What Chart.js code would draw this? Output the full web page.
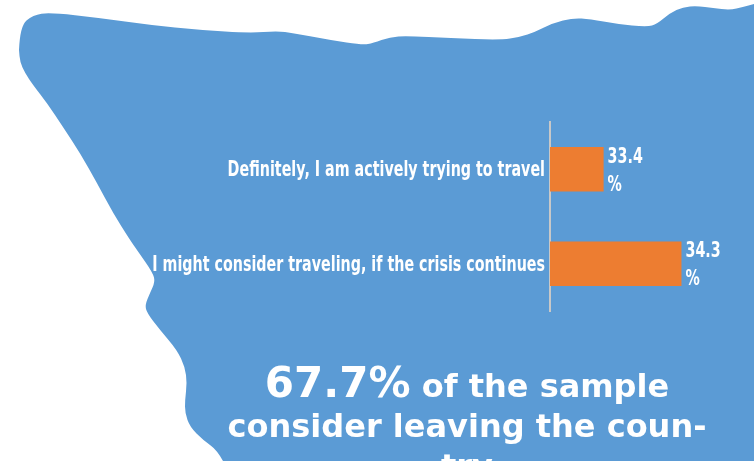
<!DOCTYPE html>
<html lang="en">
<head>
  <meta charset="UTF-8" />
  <title>Consider leaving the country</title>
  <script src="https://cdn.jsdelivr.net/npm/chart.js"></script>
  <style>
    body {
      margin: 0; padding: 0;
      background: #ffffff;
    }
    #wrap {
      width: 754px;
      height: 461px;
      position: relative;
    }
  </style>
</head>
<body>
  <div id="wrap">
    <canvas id="barChart" width="754" height="461"></canvas>
  </div>

  <script>
    // survey answers and their share of the sample (%)
    const categories = [
      "Definitely, I am actively trying to travel",
      "I might consider traveling, if the crisis continues"
    ];
    const shares = [33.4, 34.3];
    const valueUnit = "%";
    const axisMin = 32.78;
    const axisMax = 35;

    // headline under the bars: big number, then the rest of the sentence
    const headlineRest = ["of the sample", "consider leaving the coun-", "try"];

    const BLUE = "#5b9bd5";
    const ORANGE = "#ed7d31";
    const SQUEEZE = 0.68;   // labels are set narrow
    const LABEL_FONT = "bold 21px 'DejaVu Sans'";

    // outline of the blue backdrop
    const topEdge = [
      [19,50],[20,26],[33,15],[50,12.5],[100,18],[150,25],[200,30],[250,33],
      [277,31],[293,33],[330,40],[363,45],[373,43],[390,37],[407,36],[450,38],
      [500,40],[520,37],[535,32],[553,23],[573,18],[590,19],[617,24],[647,27],
      [657,24],[670,13],[683,7],[697,6],[713,8],[730,10],[743,7],[754,4]
    ];
    const leftEdge = [
      [223,461],[217,450],[203,440],[190,427],[185,413],[185,400],[187,383],
      [185,367],[177,350],[160,330],[147,313],[145,305],[150,293],[155,282],
      [153,273],[137,250],[130,240],[113,213],[97,183],[80,153],[63,127],
      [47,103],[33,85],[25,73],[20,62],[19,50]
    ];

    function smooth(ctx, pts) {
      for (let i = 1; i < pts.length - 1; i++) {
        const mx = (pts[i][0] + pts[i + 1][0]) / 2;
        const my = (pts[i][1] + pts[i + 1][1]) / 2;
        ctx.quadraticCurveTo(pts[i][0], pts[i][1], mx, my);
      }
      const last = pts[pts.length - 1];
      ctx.lineTo(last[0], last[1]);
    }

    const backdrop = {
      id: "backdrop",
      beforeDraw(chart) {
        const ctx = chart.ctx;
        ctx.save();
        ctx.fillStyle = BLUE;
        ctx.beginPath();
        ctx.moveTo(topEdge[0][0], topEdge[0][1]);
        smooth(ctx, topEdge);
        ctx.lineTo(754, 461);
        ctx.lineTo(leftEdge[0][0], leftEdge[0][1]);
        smooth(ctx, leftEdge);
        ctx.closePath();
        ctx.fill();
        ctx.restore();
      }
    };

    function narrowText(ctx, text, x, y, align) {
      ctx.save();
      ctx.translate(x, y);
      ctx.scale(SQUEEZE, 1);
      ctx.textAlign = align;
      ctx.fillText(text, 0, 0);
      ctx.restore();
    }

    const labels = {
      id: "labels",
      afterDatasetsDraw(chart) {
        const ctx = chart.ctx;
        const yScale = chart.scales.y;
        const meta = chart.getDatasetMeta(0);
        ctx.save();
        ctx.fillStyle = "#ffffff";
        ctx.font = LABEL_FONT;
        ctx.textBaseline = "alphabetic";

        // category names, right aligned against the axis
        categories.forEach((name, i) => {
          const y = yScale.getPixelForTick(i);
          narrowText(ctx, name, chart.chartArea.left - 5, y + 7, "right");
        });

        // values at the end of each bar, unit on a second line
        meta.data.forEach((bar, i) => {
          const x = bar.x + 4;
          narrowText(ctx, shares[i].toFixed(1), x, bar.y - 6.5, "left");
          narrowText(ctx, valueUnit, x, bar.y + 21.5, "left");
        });

        // headline
        const total = (shares[0] + shares[1]).toFixed(1) + "%";
        const cx = 467;
        ctx.textAlign = "left";
        ctx.font = "bold 42px 'DejaVu Sans'";
        const wBig = ctx.measureText(total).width;
        ctx.font = "bold 32px 'DejaVu Sans'";
        const wRest = ctx.measureText(" " + headlineRest[0]).width;
        let x0 = cx - (wBig + wRest) / 2;
        ctx.font = "bold 42px 'DejaVu Sans'";
        ctx.fillText(total, x0, 397);
        ctx.font = "bold 32px 'DejaVu Sans'";
        ctx.fillText(" " + headlineRest[0], x0 + wBig, 397);
        ctx.textAlign = "center";
        ctx.fillText(headlineRest[1], cx, 437);
        ctx.fillText(headlineRest[2], cx, 477);
        ctx.restore();
      }
    };

    new Chart(document.getElementById("barChart").getContext("2d"), {
      type: "bar",
      data: {
        labels: categories,
        datasets: [{
          data: shares,
          backgroundColor: ORANGE,
          categoryPercentage: 1,
          barPercentage: 0.47
        }]
      },
      options: {
        indexAxis: "y",
        responsive: false,
        animation: false,
        layout: {
          padding: { left: 0, right: 12, top: 122, bottom: 150 }
        },
        plugins: {
          legend: { display: false },
          tooltip: { enabled: false }
        },
        scales: {
          x: {
            display: false,
            min: axisMin,
            max: axisMax
          },
          y: {
            grid: { display: false, drawTicks: false },
            border: { display: true, color: "#c8c8c8", width: 2 },
            ticks: { display: false },
            afterFit(scale) { scale.width = 550; }
          }
        }
      },
      plugins: [backdrop, labels]
    });
  </script>
</body>
</html>
